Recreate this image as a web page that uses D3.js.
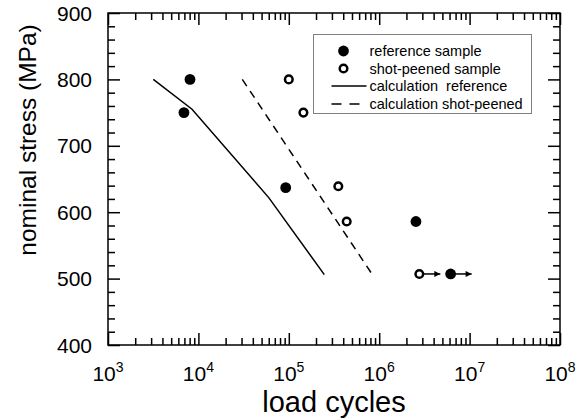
<!DOCTYPE html>
<html>
<head>
<meta charset="utf-8">
<script src="https://cdn.jsdelivr.net/npm/d3@7"></script>
<style>
  body { margin: 0; background: #fff; }
  svg { display: block; font-family: Arial, "Liberation Sans", sans-serif; }
</style>
</head>
<body>
<svg id="chart" width="587" height="418"></svg>
<script>
// measured points (load cycles, MPa)
const refCycles = [8070, 6920, 92400, 2550000, 6170000]
const refStress = [800, 750, 637, 586, 507]
const refRunout = [false, false, false, false, true]
const shotCycles = [100000, 145000, 353000, 437000, 2780000]
const shotStress = [800, 750, 639, 586, 507]
const shotRunout = [false, false, false, false, true]

// calculated curves
const calcRefCycles = [3170, 8500, 60000, 247000]
const calcRefStress = [800, 755, 622, 506]
const calcShotCycles = [30600, 860000]
const calcShotStress = [800, 504]

const xDecades = [1e3, 1e4, 1e5, 1e6, 1e7, 1e8]
const yTicks = [400, 500, 600, 700, 800, 900]

const legendLabels = ["reference sample", "shot-peened sample", "calculation  reference", "calculation shot-peened"]

const margin = { left: 108, right: 27, top: 13, bottom: 73 }
const width = 587, height = 418
const svg = d3.select("svg#chart")

const x = d3.scaleLog().domain([1e3, 1e8]).range([margin.left, width - margin.right])
const y = d3.scaleLinear().domain([400, 900]).range([height - margin.bottom, margin.top])

const xMinor = []
for (let d = 0; d < xDecades.length - 1; d++)
    for (let k = 2; k < 10; k++) xMinor.push(xDecades[d] * k)
const yMinor = d3.range(400, 901, 20).filter(v => v % 100 != 0)

const plot = svg.append("g")

// tick marks on all four sides, pointing inward
function addAxis(axis, tx, ty) {
    const g = plot.append("g").attr("transform", `translate(${tx},${ty})`).call(axis)
    g.select(".domain").remove()
    g.selectAll("line").style("stroke", "#000").style("stroke-width", 1.5)
    g.selectAll("text").remove()
}
const bottomY = y(400), topY = y(900), leftX = x(1e3), rightX = x(1e8)
addAxis(d3.axisBottom(x).tickValues(xDecades).tickSize(-12), 0, bottomY)
addAxis(d3.axisBottom(x).tickValues(xMinor).tickSize(-7), 0, bottomY)
addAxis(d3.axisTop(x).tickValues(xDecades).tickSize(-12), 0, topY)
addAxis(d3.axisTop(x).tickValues(xMinor).tickSize(-7), 0, topY)
addAxis(d3.axisLeft(y).tickValues(yTicks).tickSize(-12), leftX, 0)
addAxis(d3.axisLeft(y).tickValues(yMinor).tickSize(-7), leftX, 0)
addAxis(d3.axisRight(y).tickValues(yTicks).tickSize(-12), rightX, 0)
addAxis(d3.axisRight(y).tickValues(yMinor).tickSize(-7), rightX, 0)

plot.append("rect")
    .attr("x", leftX).attr("y", topY)
    .attr("width", rightX - leftX).attr("height", bottomY - topY)
    .style("fill", "none").style("stroke", "#000").style("stroke-width", 1.5)

// tick labels
plot.selectAll(".ylab").data(yTicks).enter().append("text")
    .attr("x", leftX - 16).attr("y", d => y(d) + 7.5)
    .attr("text-anchor", "end")
    .style("font-size", "21px")
    .text(d => d)

const xl = plot.selectAll(".xlab").data(xDecades).enter().append("text")
    .attr("x", d => x(d)).attr("y", bottomY + 36)
    .attr("text-anchor", "middle")
    .style("font-size", "21px")
xl.append("tspan").text("10")
xl.append("tspan").attr("dy", -9).style("font-size", "14px").text(d => Math.round(Math.log10(d)))

// axis titles
svg.append("text")
    .attr("x", (leftX + rightX) / 2).attr("y", 412)
    .attr("text-anchor", "middle")
    .style("font-size", "29px")
    .text("load cycles")
svg.append("text")
    .attr("transform", "translate(36,140) rotate(-90)")
    .attr("text-anchor", "middle")
    .style("font-size", "24.5px")
    .text("nominal stress (MPa)")

// calculated curves
const line = d3.line().x(d => x(d[0])).y(d => y(d[1]))
plot.append("path")
    .attr("d", line(d3.zip(calcRefCycles, calcRefStress)))
    .style("fill", "none").style("stroke", "#000").style("stroke-width", 1.5)
plot.append("path")
    .attr("d", line(d3.zip(calcShotCycles, calcShotStress)))
    .style("fill", "none").style("stroke", "#000").style("stroke-width", 1.5)
    .style("stroke-dasharray", "8 6")

// runout arrows
svg.append("defs").append("marker")
    .attr("id", "arrow").attr("viewBox", "0 0 10 10")
    .attr("refX", 10).attr("refY", 5)
    .attr("markerWidth", 10).attr("markerHeight", 6)
    .attr("markerUnits", "userSpaceOnUse")
    .attr("orient", "auto")
    .append("path").attr("d", "M0,0L10,5L0,10Z").style("fill", "#000")

function drawRunout(cx, cy, len) {
    plot.append("line")
        .attr("x1", cx).attr("y1", cy).attr("x2", cx + len).attr("y2", cy)
        .style("stroke", "#000").style("stroke-width", 1.5)
        .attr("marker-end", "url(#arrow)")
}
refCycles.forEach((c, i) => { if (refRunout[i]) drawRunout(x(c), y(refStress[i]), 21) })
shotCycles.forEach((c, i) => { if (shotRunout[i]) drawRunout(x(c), y(shotStress[i]), 21) })

// measured points
plot.selectAll(".ref").data(d3.zip(refCycles, refStress)).enter().append("circle")
    .attr("cx", d => x(d[0])).attr("cy", d => y(d[1])).attr("r", 5.4)
    .style("fill", "#000")
plot.selectAll(".shot").data(d3.zip(shotCycles, shotStress)).enter().append("circle")
    .attr("cx", d => x(d[0])).attr("cy", d => y(d[1])).attr("r", 3.8)
    .style("fill", "#fff").style("stroke", "#000").style("stroke-width", 2.5)

// legend
const legend = svg.append("g").attr("transform", "translate(313.5,34.5)")
legend.append("rect").attr("width", 218).attr("height", 79)
    .style("fill", "#fff").style("stroke", "#808080").style("stroke-width", 1)
const rowY = [16.5, 34, 51.5, 69.5]
legend.append("circle").attr("cx", 30).attr("cy", rowY[0]).attr("r", 5.4).style("fill", "#000")
legend.append("circle").attr("cx", 30).attr("cy", rowY[1]).attr("r", 3.8)
    .style("fill", "#fff").style("stroke", "#000").style("stroke-width", 2.5)
legend.append("line").attr("x1", 18).attr("x2", 53).attr("y1", rowY[2]).attr("y2", rowY[2])
    .style("stroke", "#000").style("stroke-width", 1.5)
legend.append("line").attr("x1", 18).attr("x2", 53).attr("y1", rowY[3]).attr("y2", rowY[3])
    .style("stroke", "#000").style("stroke-width", 1.5).style("stroke-dasharray", "10 8")
legend.selectAll(".lt").data(legendLabels).enter().append("text")
    .attr("x", 56).attr("y", (d, i) => rowY[i] + 5)
    .style("font-size", "14.5px")
    .style("white-space", "pre")
    .attr("xml:space", "preserve")
    .text(d => d)
</script>
</body>
</html>
